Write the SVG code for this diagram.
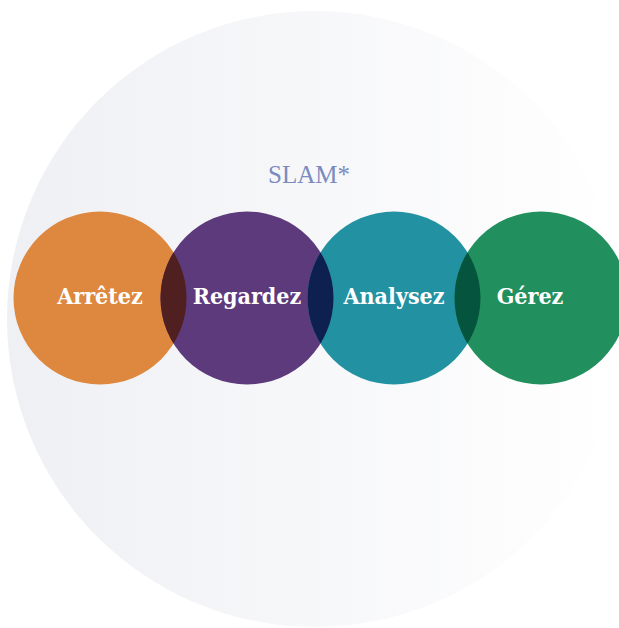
<svg xmlns="http://www.w3.org/2000/svg" width="619" height="628" viewBox="0 0 619 628">
  <defs>
    <linearGradient id="bgGrad" x1="0" y1="0" x2="1" y2="0">
      <stop offset="0" stop-color="#eff0f4"/>
      <stop offset="1" stop-color="#ffffff"/>
    </linearGradient>
    <clipPath id="clipOrange"><circle cx="100" cy="298" r="86.5"/></clipPath>
    <clipPath id="clipPurple"><circle cx="247" cy="298" r="86.5"/></clipPath>
    <clipPath id="clipTeal"><circle cx="394" cy="298" r="86.5"/></clipPath>
    <style>
      .label { font-family: "DejaVu Serif Condensed", "DejaVu Serif", serif; font-stretch: condensed; font-weight: bold; font-size: 23px; fill: #ffffff; text-anchor: middle; }
      .title { font-family: "Liberation Serif", "Times New Roman", serif; font-size: 25px; fill: #7a8bbf; text-anchor: middle; }
    </style>
  </defs>

  <rect width="619" height="628" fill="#ffffff"/>
  <circle cx="315" cy="319" r="308" fill="url(#bgGrad)"/>

  <text class="title" x="309" y="183">SLAM*</text>

  <g id="arretez">
    <circle cx="100" cy="298" r="86.5" fill="#de873e"/>
    <text class="label" x="100" y="304">Arrêtez</text>
  </g>
  <g id="regardez">
    <circle cx="247" cy="298" r="86.5" fill="#5c3a7c"/>
    <text class="label" x="247" y="304">Regardez</text>
  </g>
  <g id="analysez">
    <circle cx="394" cy="298" r="86.5" fill="#2292a3"/>
    <text class="label" x="394" y="304">Analysez</text>
  </g>
  <g id="gerez">
    <circle cx="541" cy="298" r="86.5" fill="#22905e"/>
    <text class="label" x="530" y="304">Gérez</text>
  </g>

  <!-- overlap lenses between neighbouring circles -->
  <g id="overlaps">
    <circle cx="247" cy="298" r="86.5" fill="#501f1f" clip-path="url(#clipOrange)"/>
    <circle cx="394" cy="298" r="86.5" fill="#0d2050" clip-path="url(#clipPurple)"/>
    <circle cx="541" cy="298" r="86.5" fill="#05543d" clip-path="url(#clipTeal)"/>
  </g>
</svg>
